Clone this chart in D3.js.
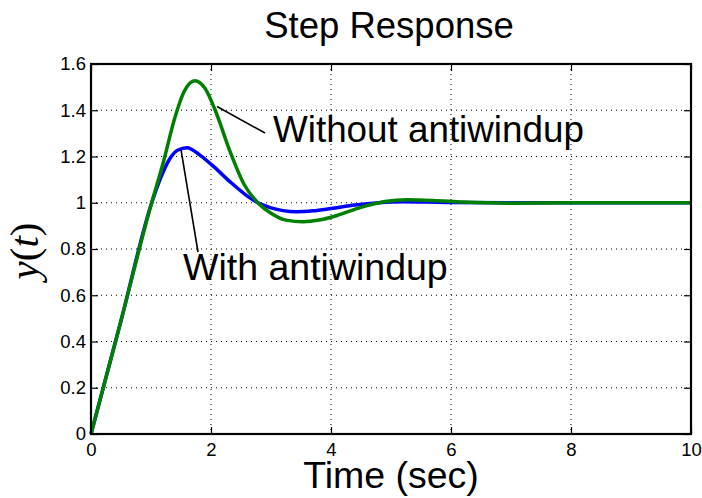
<!DOCTYPE html>
<html>
<head>
<meta charset="utf-8">
<script src="https://cdn.jsdelivr.net/npm/d3@7"></script>
<style>
  body { margin: 0; background: #fff; }
  text { font-family: "Liberation Sans", Arial, sans-serif; }
</style>
</head>
<body>
<div id="chart"></div>
<script>
// time axis values (sec)
var timeWithout = [0, 0.5, 1.0, 1.2, 1.4, 1.55, 1.73, 1.9, 2.07, 2.32, 2.55, 2.8, 3.0, 3.25, 3.53, 3.8, 4.1, 4.5, 4.9, 5.27, 5.7, 6.2, 7, 8, 9, 10];
var yWithout    = [0, 0.49, 0.99, 1.17, 1.37, 1.48, 1.528, 1.495, 1.40, 1.22, 1.08, 0.995, 0.955, 0.925, 0.918, 0.925, 0.945, 0.98, 1.005, 1.013, 1.01, 1.003, 0.998, 1.0, 1.0, 1.0];

var timeWith = [0, 0.5, 1.0, 1.15, 1.3, 1.45, 1.6, 1.82, 2.05, 2.32, 2.6, 2.82, 3.0, 3.2, 3.43, 3.7, 4.0, 4.4, 4.8, 5.2, 5.6, 6, 7, 8, 9, 10];
var yWith    = [0, 0.49, 0.99, 1.1, 1.185, 1.228, 1.238, 1.205, 1.155, 1.09, 1.03, 0.995, 0.978, 0.966, 0.961, 0.965, 0.975, 0.99, 1.0, 1.004, 1.003, 1.001, 1.0, 1.0, 1.0, 1.0];

var xTicks = [0, 2, 4, 6, 8, 10];
var yTicks = [0, 0.2, 0.4, 0.6, 0.8, 1, 1.2, 1.4, 1.6];

function init(){
    var w = 702, h = 498;
    var left = 91, right = 691, top = 64, bottom = 434;

    var svg = d3.select("#chart").append("svg")
        .attr("width", w)
        .attr("height", h);

    var x = d3.scaleLinear().domain([0, 10]).range([left, right]);
    var y = d3.scaleLinear().domain([0, 1.6]).range([bottom, top]);

    // grid
    svg.append("g").selectAll("line")
        .data(xTicks.slice(1, -1)).enter().append("line")
        .attr("x1", d => x(d)).attr("x2", d => x(d))
        .attr("y1", top).attr("y2", bottom)
        .attr("stroke", "#000").attr("stroke-width", 1)
        .attr("stroke-dasharray", "1,4");
    svg.append("g").selectAll("line")
        .data(yTicks.slice(1, -1)).enter().append("line")
        .attr("y1", d => y(d)).attr("y2", d => y(d))
        .attr("x1", left).attr("x2", right)
        .attr("stroke", "#000").attr("stroke-width", 1)
        .attr("stroke-dasharray", "1,4");

    // axes with inward ticks
    var xAxis = d3.axisBottom(x).tickValues(xTicks).tickSizeInner(-7).tickSizeOuter(0).tickPadding(9);
    var yAxis = d3.axisLeft(y).tickValues(yTicks).tickSizeInner(-7).tickSizeOuter(0).tickPadding(5)
        .tickFormat(d3.format("~g"));
    var xTop = d3.axisTop(x).tickValues(xTicks).tickSizeInner(-7).tickSizeOuter(0).tickFormat("");
    var yRight = d3.axisRight(y).tickValues(yTicks).tickSizeInner(-7).tickSizeOuter(0).tickFormat("");

    function style(g){
        g.select(".domain").remove();
        g.selectAll(".tick line").attr("stroke", "#000").attr("stroke-width", 1.2);
        g.selectAll(".tick text").attr("fill", "#000")
            .style("font-size", "18.5px")
            .style("font-family", "'Liberation Sans', Arial, sans-serif");
    }
    svg.append("g").attr("transform", "translate(0," + bottom + ")").call(xAxis).call(style);
    svg.append("g").attr("transform", "translate(" + left + ",0)").call(yAxis).call(style);
    svg.append("g").attr("transform", "translate(0," + top + ")").call(xTop).call(style);
    svg.append("g").attr("transform", "translate(" + right + ",0)").call(yRight).call(style);

    // lines
    var line = d3.line()
        .x(d => x(d[0]))
        .y(d => y(d[1]))
        .curve(d3.curveMonotoneX);

    var withData = timeWith.map((t, i) => [t, yWith[i]]);
    var withoutData = timeWithout.map((t, i) => [t, yWithout[i]]);

    svg.append("path").datum(withData)
        .attr("d", line).attr("fill", "none")
        .attr("stroke", "#0000ff").attr("stroke-width", 3.5);
    svg.append("path").datum(withoutData)
        .attr("d", line).attr("fill", "none")
        .attr("stroke", "#008000").attr("stroke-width", 3.5);

    // box
    svg.append("rect")
        .attr("x", left).attr("y", top)
        .attr("width", right - left).attr("height", bottom - top)
        .attr("fill", "none").attr("stroke", "#000").attr("stroke-width", 2.2);

    // annotations
    svg.append("line")
        .attr("x1", x(2.1)).attr("y1", y(1.416))
        .attr("x2", 265).attr("y2", 133)
        .attr("stroke", "#000").attr("stroke-width", 1.6);
    svg.append("text")
        .attr("x", 273).attr("y", 142)
        .style("font-size", "36.8px")
        .text("Without antiwindup");

    svg.append("line")
        .attr("x1", x(1.5)).attr("y1", y(1.23))
        .attr("x2", 198).attr("y2", 252)
        .attr("stroke", "#000").attr("stroke-width", 1.6);
    svg.append("text")
        .attr("x", 183).attr("y", 280)
        .style("font-size", "37.5px")
        .text("With antiwindup");

    // titles
    svg.append("text")
        .attr("x", 389).attr("y", 38)
        .attr("text-anchor", "middle")
        .style("font-size", "36.5px")
        .text("Step Response");

    svg.append("text")
        .attr("x", (left + right) / 2).attr("y", 488)
        .attr("text-anchor", "middle")
        .style("font-size", "37.5px")
        .text("Time (sec)");

    var yl = svg.append("text")
        .attr("transform", "translate(38,251) rotate(-90)")
        .attr("text-anchor", "middle")
        .style("font-family", "'Liberation Serif', 'DejaVu Serif', serif")
        .style("font-size", "41px");
    yl.append("tspan").style("font-style", "italic").text("y");
    yl.append("tspan").text("(");
    yl.append("tspan").style("font-style", "italic").text("t");
    yl.append("tspan").text(")");
}
window.onload = init;
</script>
</body>
</html>
